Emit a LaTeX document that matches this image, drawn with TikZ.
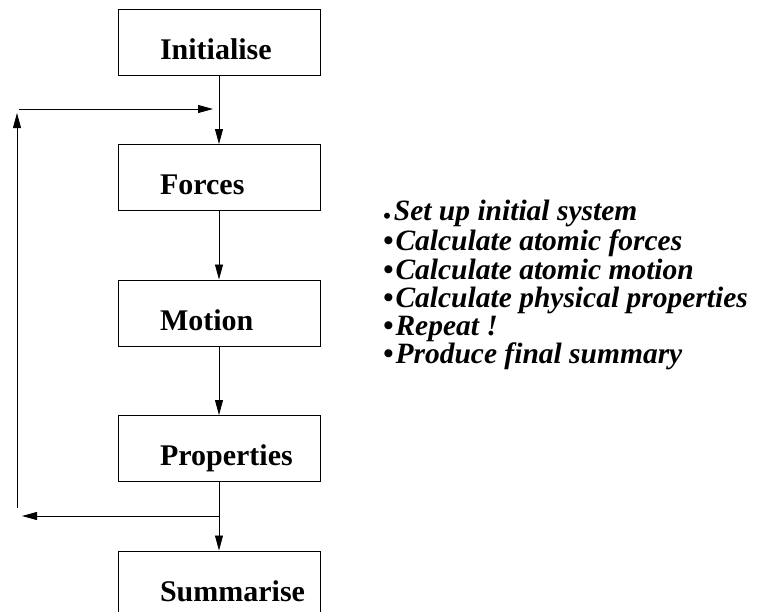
\documentclass[tikz,border=0pt]{standalone}
\usepackage{fontspec}
\setmainfont{Liberation Serif}
\usetikzlibrary{positioning,arrows.meta}

\begin{document}
\begin{tikzpicture}[x=1pt, y=1pt, node distance=68.5pt,
  >={Triangle[length=15pt, width=8pt]},
  every node/.style = {inner sep=0pt},
  stage/.style = {draw, line width=1pt, minimum width=202pt, minimum height=66pt,
    text width=118pt, inner xsep=42pt, align=left, text height=34pt, text depth=0pt,
    font=\fontsize{30}{36}\selectfont\bfseries},
  flow/.style = {->, line width=0.8pt}]
  \useasboundingbox (0,0) rectangle (758,-611);
  \node[stage] (init) at (219,-42) {Initialise};
  \node[stage, below=of init] (forces) {Forces};
  \node[stage, below=of forces] (motion) {Motion};
  \node[stage, below=of motion] (props) {Properties};
  \node[stage, below=of props] (summ) {Summarise};
  \draw[flow] (init) -- (forces);
  \draw[flow] (forces) -- (motion);
  \draw[flow] (motion) -- (props);
  \draw[flow] (props) -- (summ);
  % loop back from properties to forces
  \coordinate[below=34pt of props] (split);
  \coordinate (back) at (22,0);
  \coordinate (risebot) at (17,-508);
  \coordinate (risetop) at (17,-113);
  \coordinate (joinfrom) at (19,-109);
  \coordinate (join) at (213,-109);
  \draw[flow] (split) -- (split -| back);
  \draw[flow] (risebot) -- (risetop);
  \draw[flow] (joinfrom) -- (join);
  \node[anchor=north west, align=left,
    font=\fontsize{29.5}{28.2}\selectfont\bfseries\itshape] (steps) at (383,-200)
    {{\fontsize{22}{22}\selectfont\raisebox{-3pt}[0pt][0pt]{\textbullet}}\kern3pt Set up initial system\\[2pt]
     \textbullet\kern2pt Calculate atomic forces\\
     \textbullet\kern2pt Calculate atomic motion\\
     \textbullet\kern2pt Calculate physical properties\\
     \textbullet\kern2pt Repeat !\\
     \textbullet\kern2pt Produce final summary};
\end{tikzpicture}
\end{document}
